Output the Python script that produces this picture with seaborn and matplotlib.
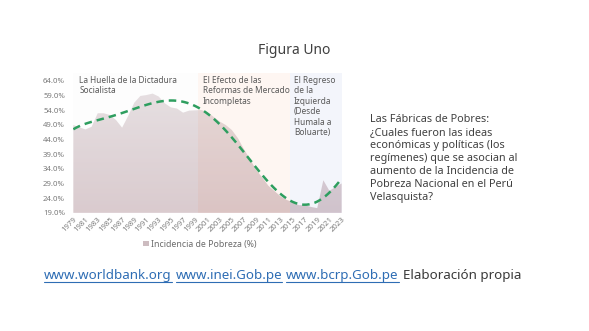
import numpy as np
import pandas as pd
import matplotlib
matplotlib.use("Agg")
import matplotlib.pyplot as plt
from matplotlib.colors import LinearSegmentedColormap
from matplotlib.patches import Patch
import seaborn as sns

# Incidencia de pobreza nacional (%), 1979-2023
years = list(range(1979, 2024))
poverty = [48.9, 48.1, 47.4, 48.3, 52.9, 52.9, 52.3, 50.6, 48.0, 52.0,
           56.5, 58.8, 59.1, 59.6, 58.6, 56.3, 54.9, 54.5, 53.1, 53.8,
           53.9, 54.0, 53.3, 51.7, 50.1, 48.9, 47.2, 44.4, 40.6, 37.2,
           33.6, 31.0, 28.2, 26.4, 24.6, 23.4, 22.6, 21.6, 21.6, 21.0,
           20.6, 30.1, 26.5, 27.8, 29.0]

# Periodos políticos sombreados (límites en años)
period_labels = ["La Huella de la Dictadura\nSocialista",
                 "El Efecto de las\nReformas de Mercado\nIncompletas",
                 "El Regreso\nde la\nIzquierda\n(Desde\nHumala a\nBoluarte)"]
period_starts = [1979, 1999.5, 2014.5]
period_ends = [1999.5, 2014.5, 2023]
period_colors = ["#fafafb", "#fde6dc", "#dfe3f4"]

yticks = [19, 24, 29, 34, 39, 44, 49, 54, 59, 64]
tick_years = list(range(1979, 2024, 2))

# Eje de categorías: posición 1..N para cada año
df = pd.DataFrame({"anio": years, "pobreza": poverty})
df["pos"] = np.arange(1, len(df) + 1)


def year_pos(y):
    return y - years[0] + 1


sns.set_theme(style="white")
plt.rcParams["font.family"] = ["Noto Sans", "DejaVu Sans"]

fig = plt.figure(figsize=(5.89, 3.31), dpi=100)
ax = fig.add_axes([0.1245, 0.357, 0.4555, 0.4215])

ymin, ymax = 19, 66.5
x0, x1 = df["pos"].iloc[0], df["pos"].iloc[-1]

# Área con degradado vertical
poly = ax.fill_between(df["pos"], ymin, df["pobreza"], facecolor="none",
                       edgecolor="none", zorder=1)
grad_cmap = LinearSegmentedColormap.from_list("area", ["#c9b2b7", "#dcd1d4"])
grad = np.linspace(0, 1, 256).reshape(-1, 1)
img = ax.imshow(grad, extent=[x0, x1, ymin, 60], origin="lower",
                aspect="auto", cmap=grad_cmap, zorder=1)
img.set_clip_path(poly.get_paths()[0], transform=ax.transData)

# Bandas de periodos
for s, e, c in zip(period_starts, period_ends, period_colors):
    ax.axvspan(year_pos(s), year_pos(e), color=c, alpha=0.35, lw=0, zorder=2)

# Línea de tendencia polinómica (orden 6)
sns.regplot(data=df, x="pos", y="pobreza", order=6, ci=None, scatter=False,
            truncate=True, ax=ax,
            line_kws=dict(color="#2e9e5f", lw=1.8, ls=(0, (3, 2)), zorder=3))

for s, lab in zip(period_starts, period_labels):
    ax.text(year_pos(s) + (1.0 if s == years[0] else 0.7), 65.6, lab,
            fontsize=6, color="#595959", va="top", ha="left",
            linespacing=1.2, zorder=4)

ax.set_xlim(x0, x1)
ax.set_ylim(ymin, ymax)
ax.set_yticks(yticks)
ax.set_yticklabels([f"{v:.1f}%" for v in yticks])
ax.set_xticks([year_pos(y) for y in tick_years])
ax.set_xticklabels([str(y) for y in tick_years], rotation=45, ha="right",
                   va="top", rotation_mode="anchor")
ax.tick_params(axis="both", labelsize=5.6, colors="#7a7a7a", length=0, pad=2)
ax.tick_params(axis="y", pad=6)
ax.set_xlabel("")
ax.set_ylabel("")
for sp in ax.spines.values():
    sp.set_visible(False)

# Leyenda
handle = Patch(facecolor="#cdbcc0", edgecolor="none")
fig.legend([handle], ["Incidencia de Pobreza (%)"], loc="center",
           bbox_to_anchor=(200 / 589, 1 - 244 / 331), frameon=False,
           fontsize=6.3, labelcolor="#6b6b6b", handlelength=0.6,
           handleheight=0.6, handletextpad=0.3)

# Título
fig.text(294 / 589, 1 - 50 / 331, "Figura Uno", fontsize=10, color="#404040",
         ha="center", va="center")

# Texto lateral
fig.text(370 / 589, 1 - 114 / 331,
         "Las Fábricas de Pobres:\n¿Cuales fueron las ideas\neconómicas y políticas (los\n"
         "regímenes) que se asocian al\naumento de la Incidencia de\n"
         "Pobreza Nacional en el Perú\nVelasquista?",
         fontsize=7.8, color="#404040", ha="left", va="top", linespacing=1.25)

# Fuentes
sources = [("www.worldbank.org", True), ("www.inei.Gob.pe", True),
           ("www.bcrp.Gob.pe", True), ("Elaboración propia", False)]
renderer = fig.canvas.get_renderer()
x_px = 44
base_y = 1 - 279 / 331
for txt, link in sources:
    t = fig.text(x_px / 589, base_y, txt, fontsize=9.6,
                 color="#2e6db4" if link else "#3a3a3a",
                 ha="left", va="baseline")
    bb = t.get_window_extent(renderer=renderer)
    if link:
        fig.add_artist(plt.Line2D([bb.x0 / fig.bbox.width, bb.x1 / fig.bbox.width],
                                  [base_y - 3 / 331, base_y - 3 / 331],
                                  color="#2e6db4", lw=0.8,
                                  transform=fig.transFigure))
    x_px = bb.x1 + 4

fig.savefig("out.png", dpi=100, facecolor="white")
